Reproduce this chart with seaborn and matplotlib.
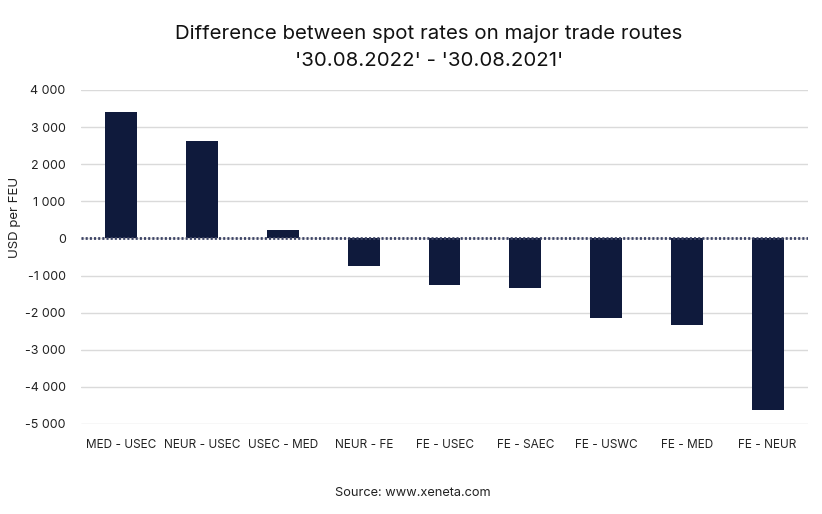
import matplotlib as mpl
mpl.use('Agg')
import matplotlib.pyplot as plt
import seaborn as sns
import numpy as np
import pandas as pd

# --- data ---
routes = ['MED - USEC', 'NEUR - USEC', 'USEC - MED', 'NEUR - FE', 'FE - USEC',
          'FE - SAEC', 'FE - USWC', 'FE - MED', 'FE - NEUR']
diff = [3420, 2620, 230, -730, -1250, -1335, -2145, -2335, -4620]
y_ticks = [4000, 3000, 2000, 1000, 0, -1000, -2000, -3000, -4000, -5000]

df = pd.DataFrame({'route': routes, 'diff': diff})

sns.set_theme(style='white')
plt.rcParams['font.family'] = ['Inter', 'DejaVu Sans']

W, H = 822, 514
fig = plt.figure(figsize=(W/100, H/100), dpi=100)
ax = fig.add_axes([81/W, 1 - 424/H, (808 - 81)/W, (424 - 90)/H])

sns.barplot(data=df, x='route', y='diff', color='#0F1A3C', saturation=1,
            width=0.395, linewidth=0, ax=ax, zorder=3)

ax.set_ylim(-5000, 4000)
ax.set_xlim(-0.5, 8.5)
ax.set_yticks(y_ticks)
ax.set_yticklabels([f'{v:,}'.replace(',', ' ') for v in y_ticks], fontsize=9, color='#222222')
ax.grid(axis='y', color='#DADADA', linewidth=1, zorder=0)
ax.set_axisbelow(True)
ax.axhline(0, color='#3D4466', linewidth=2, linestyle=(0, (0.75, 0.75)), zorder=4)

for s in ax.spines.values():
    s.set_visible(False)
ax.tick_params(axis='both', length=0)
ax.tick_params(axis='y', pad=11)
ax.tick_params(axis='x', pad=11, labelsize=8.5, labelcolor='#222222')

ax.set_xlabel('')
ax.set_ylabel('USD per FEU', fontsize=9.5, color='#222222')
# label sits beside the upper half, not centred on the axis
ax.yaxis.set_label_coords((21 - 81)/(808 - 81), (424 - 217)/(424 - 90))

fig.text(429/W, 1 - 34/H, 'Difference between spot rates on major trade routes',
         ha='center', va='center', fontsize=14.7, color='#111111')
fig.text(429/W, 1 - 61/H, "'30.08.2022' - '30.08.2021'",
         ha='center', va='center', fontsize=14.7, color='#111111')
fig.text(413/W, 1 - 493/H, 'Source: www.xeneta.com',
         ha='center', va='center', fontsize=9.2, color='#222222')

fig.savefig('out.png', dpi=100)
